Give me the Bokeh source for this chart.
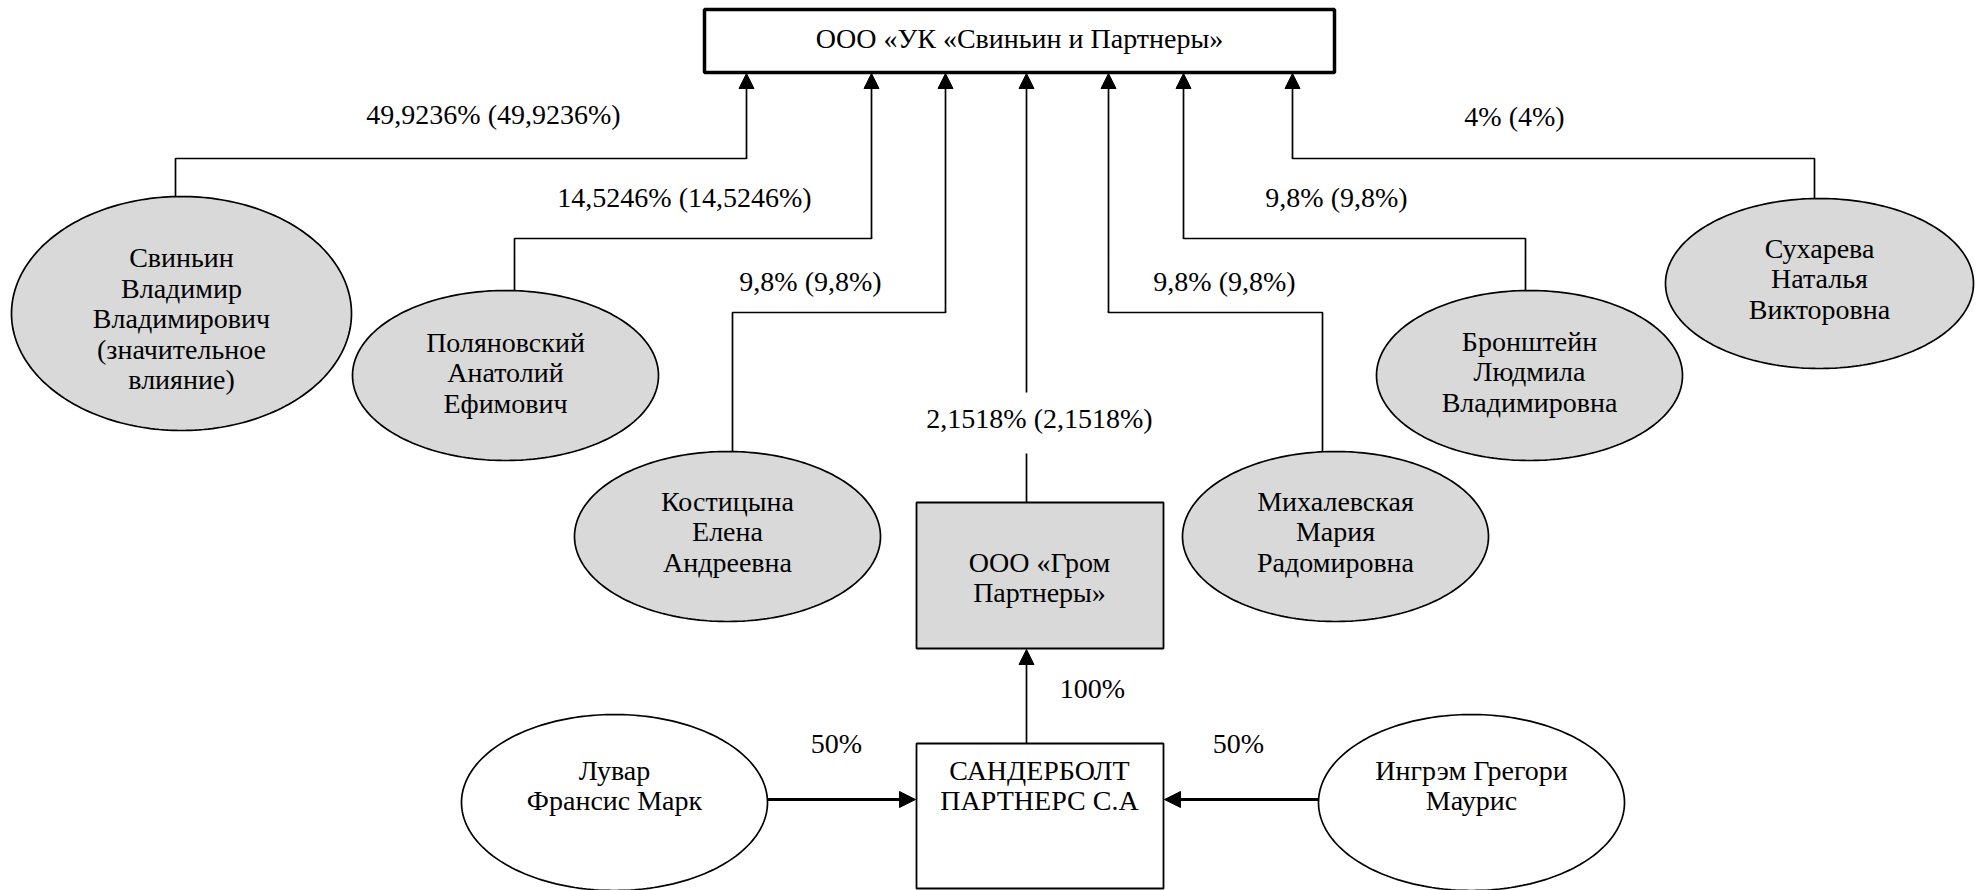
import numpy as np
from bokeh.plotting import figure
from bokeh.models import Range1d, Arrow, NormalHead
from bokeh.core.properties import value
from bokeh.embed import file_html
from bokeh.resources import INLINE

# ---------------- data (texts / values) ----------------
top_company = "ООО «УК «Свиньин и Партнеры»"
owner_names = [
    ["Свиньин", "Владимир", "Владимирович", "(значительное", "влияние)"],
    ["Поляновский", "Анатолий", "Ефимович"],
    ["Костицына", "Елена", "Андреевна"],
    ["Михалевская", "Мария", "Радомировна"],
    ["Бронштейн", "Людмила", "Владимировна"],
    ["Сухарева", "Наталья", "Викторовна"],
]
owner_shares = ["49,9236% (49,9236%)", "14,5246% (14,5246%)", "9,8% (9,8%)",
                "9,8% (9,8%)", "9,8% (9,8%)", "4% (4%)"]
grom_name = ["ООО «Гром", "Партнеры»"]
grom_share = "2,1518% (2,1518%)"
sander_name = ["САНДЕРБОЛТ", "ПАРТНЕРС С.А"]
sander_share = "100%"
foreign_names = [["Лувар", "Франсис Марк"], ["Ингрэм Грегори", "Маурис"]]
foreign_shares = ["50%", "50%"]

# ---------------- layout (pixel coordinates) ----------------
W, H = 1976, 890
FS = "28px"
LH = 30.5
FONT = value("Liberation Serif")

p = figure(width=W, height=H, x_range=Range1d(0, W), y_range=Range1d(H, 0),
           output_backend="svg", toolbar_location=None, min_border=0)
p.axis.visible = False
p.grid.visible = False
p.outline_line_color = None
p.background_fill_color = "white"
p.border_fill_color = "white"

GRAY = "#d9d9d9"
texts = []  # (x, y, text) collected, drawn at the end


def lines_text(lines, cx, cy):
    n = len(lines)
    for i in range(n):
        texts.append((cx, cy + (i - (n - 1) / 2) * LH, lines[i]))


def label(t, cx, cy):
    texts.append((cx, cy, t))


def arrow(x0, y0, x1, y1, lw=1.7, size=15):
    p.add_layout(Arrow(end=NormalHead(size=size, fill_color="black", line_color="black", line_width=1),
                       x_start=x0, y_start=y0, x_end=x1, y_end=y1,
                       line_color="black", line_width=lw))


def ellipses(cxs, cys, rxs, rys, fill):
    t = np.linspace(0, 2 * np.pi, 241)
    xs = [list(cx + rx * np.cos(t)) for cx, rx in zip(cxs, rxs)]
    ys = [list(cy + ry * np.sin(t)) for cy, ry in zip(cys, rys)]
    p.patches(xs=xs, ys=ys, fill_color=fill, line_color="black", line_width=1.7)


# top box
TB = dict(l=704, r=1334, t=9, b=72)
p.quad(left=[TB["l"]], right=[TB["r"]], top=[TB["t"]], bottom=[TB["b"]],
       fill_color="white", line_color="black", line_width=3.5)
label(top_company, 1019, 38)

# owners (ellipses)
own_cx = [181, 505, 727, 1335, 1529, 1819]
own_cy = [313, 375, 536, 536, 375, 283]
own_rx = [170, 153, 153, 153, 153, 154]
own_ry = [117, 85, 85, 85, 85, 85]
own_text_cy = [318, 372, 531, 531, 371, 278]
own_conn_x = [175, 514, 732, 1322, 1525, 1814]
own_tip_x = [746, 871, 945, 1108, 1183, 1292]
own_bend_y = [158, 238, 312, 312, 238, 158]
own_lab = [(493, 114), (684, 197), (810, 281), (1224, 281), (1336, 197), (1514, 116)]

for i in range(len(owner_names)):
    top_y = own_cy[i] - own_ry[i]
    p.line(x=[own_conn_x[i], own_conn_x[i], own_tip_x[i], own_tip_x[i]],
           y=[top_y, own_bend_y[i], own_bend_y[i], own_bend_y[i] - 1],
           line_color="black", line_width=1.7)
    arrow(own_tip_x[i], own_bend_y[i], own_tip_x[i], TB["b"] + 1)

ellipses(own_cx, own_cy, own_rx, own_ry, GRAY)
for i, names in enumerate(owner_names):
    lines_text(names, own_cx[i], own_text_cy[i])
for i, s in enumerate(owner_shares):
    label(s, *own_lab[i])

# Гром box
GB = dict(l=916, r=1163, t=502, b=648)
CX = 1026
p.quad(left=[GB["l"]], right=[GB["r"]], top=[GB["t"]], bottom=[GB["b"]],
       fill_color=GRAY, line_color="black", line_width=1.8)
lines_text(grom_name, 1039, 577)
p.line(x=[CX, CX], y=[GB["t"], 453], line_color="black", line_width=1.7)
arrow(CX, 392, CX, TB["b"] + 1)
label(grom_share, 1039, 418)

# Сандерболт box
SB = dict(l=916, r=1163, t=743, b=888)
p.quad(left=[SB["l"]], right=[SB["r"]], top=[SB["t"]], bottom=[SB["b"]],
       fill_color="white", line_color="black", line_width=1.8)
lines_text(sander_name, 1039, 785)
arrow(CX, SB["t"], CX, GB["b"] + 1)
label(sander_share, 1092, 688)

# foreign owners
f_cx = [614, 1471]
f_cy = [802, 802]
f_rx = [153, 153]
f_ry = [88, 88]
ellipses(f_cx, f_cy, f_rx, f_ry, "white")
for i, names in enumerate(foreign_names):
    lines_text(names, f_cx[i], 785)
arrow(f_cx[0] + f_rx[0], 799, SB["l"] - 1, 799, lw=2.8, size=16)
arrow(f_cx[1] - f_rx[1], 799, SB["r"] + 1, 799, lw=2.8, size=16)
label(foreign_shares[0], 836, 743)
label(foreign_shares[1], 1238, 743)

# all texts in one glyph
p.text(x=[t[0] for t in texts], y=[t[1] for t in texts], text=[t[2] for t in texts],
       text_font=FONT, text_font_size=FS, text_align="center", text_baseline="middle",
       text_color="black")

open("out.html", "w").write(file_html(p, INLINE))
